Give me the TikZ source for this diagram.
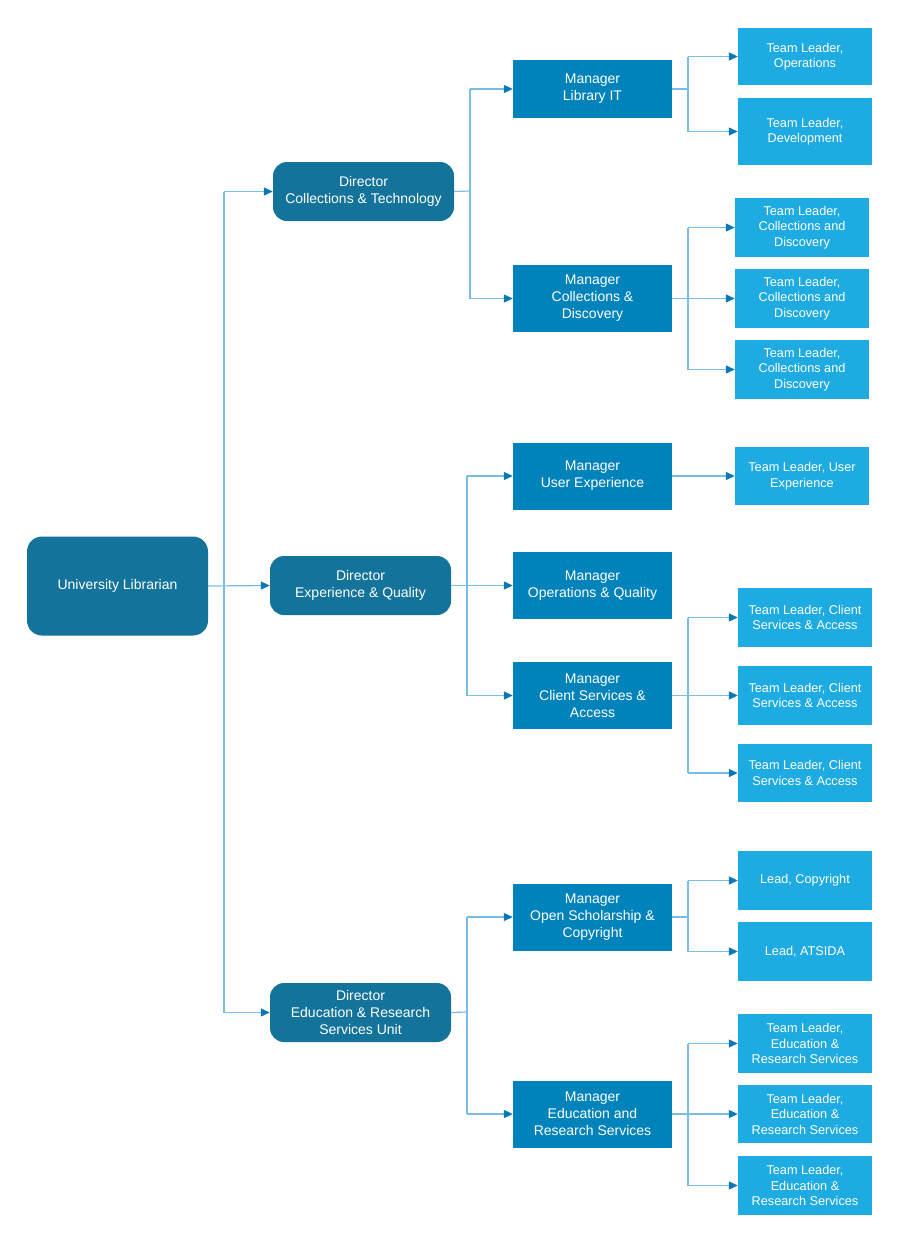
\documentclass[tikz,border=0pt]{standalone}
\usepackage{fontspec}
\setmainfont{Liberation Sans}
\usetikzlibrary{arrows.meta}
\definecolor{dirc}{RGB}{19,115,154}
\definecolor{mgrc}{RGB}{0,130,186}
\definecolor{tlc}{RGB}{30,171,226}
\definecolor{linec}{RGB}{120,190,228}
\definecolor{arrc}{RGB}{10,120,180}
\tikzset{
  top/.style={fill=dirc, rounded corners=15pt, minimum width=181pt, minimum height=99pt, text=white, align=center, font=\fontsize{14}{17}\selectfont, inner sep=0pt},
  dirbox/.style={fill=dirc, rounded corners=14pt, minimum width=181pt, minimum height=59pt, text=white, align=center, font=\fontsize{14}{17}\selectfont, inner sep=0pt},
  mgrbox/.style={fill=mgrc, minimum width=159pt, minimum height=67pt, text=white, align=center, font=\fontsize{14}{17}\selectfont, inner sep=0pt},
  tlbox/.style={fill=tlc, minimum width=134pt, minimum height=59pt, text=white, align=center, font=\fontsize{12.7}{15.5}\selectfont, inner sep=0pt},
  conn/.style={draw=linec, line width=1.2pt},
  arr/.style={conn, -{Triangle[length=9pt,width=8pt,color=arrc]}},
}
\begin{document}
\begin{tikzpicture}[x=1pt,y=-1pt]
\useasboundingbox (0,0) rectangle (900,1242);
% top
\node[top] (ul) at (117.5,586) {University Librarian};
% directors
\node[dirbox] (dct) at (363.5,191.5) {Director\\Collections \& Technology};
\node[dirbox] (deq) at (360.5,585.5) {Director\\Experience \& Quality};
\node[dirbox] (der) at (360.5,1012.5) {Director\\Education \& Research\\Services Unit};
% managers
\node[mgrbox, minimum height=58pt] (mlit) at (592.5,89) {Manager\\Library IT};
\node[mgrbox] (mcd) at (592.5,298.5) {Manager\\Collections \&\\Discovery};
\node[mgrbox] (mux) at (592.5,476) {Manager\\User Experience};
\node[mgrbox] (moq) at (592.5,585.5) {Manager\\Operations \& Quality};
\node[mgrbox] (mcs) at (592.5,695.5) {Manager\\Client Services \&\\Access};
\node[mgrbox] (mos) at (592.5,917) {Manager\\Open Scholarship \&\\Copyright};
\node[mgrbox] (mer) at (592.5,1114) {Manager\\Education and\\Research Services};
% team leaders
\node[tlbox, minimum height=57pt] (tops) at (805,56.5) {Team Leader,\\Operations};
\node[tlbox, minimum height=67pt] (tdev) at (805,131.5) {Team Leader,\\Development};
\node[tlbox] (tcd1) at (802,227.5) {Team Leader,\\Collections and\\Discovery};
\node[tlbox] (tcd2) at (802,298.5) {Team Leader,\\Collections and\\Discovery};
\node[tlbox] (tcd3) at (802,369.5) {Team Leader,\\Collections and\\Discovery};
\node[tlbox, minimum height=58pt] (tux) at (802,476) {Team Leader, User\\Experience};
\node[tlbox] (tcs1) at (805,617.5) {Team Leader, Client\\Services \& Access};
\node[tlbox] (tcs2) at (805,695.5) {Team Leader, Client\\Services \& Access};
\node[tlbox, minimum height=58pt] (tcs3) at (805,773) {Team Leader, Client\\Services \& Access};
\node[tlbox] (tlc1) at (805,880.5) {Lead, Copyright};
\node[tlbox] (tlc2) at (805,951.5) {Lead, ATSIDA};
\node[tlbox] (ter1) at (805,1043.5) {Team Leader,\\Education \&\\Research Services};
\node[tlbox, minimum height=58pt] (ter2) at (805,1114) {Team Leader,\\Education \&\\Research Services};
\node[tlbox] (ter3) at (805,1185.5) {Team Leader,\\Education \&\\Research Services};
% trunk
\coordinate (tr) at (224,586);
\draw[conn] (tr |- dct.west) -- (tr |- der.west);
\draw[arr] (ul.east) -- (deq.west);
\draw[arr] (tr |- dct.west) -- (dct.west);
\draw[arr] (tr |- der.west) -- (der.west);
% director -> managers
\coordinate (b1) at (470,191);
\draw[conn] (dct.east) -- (b1);
\draw[conn] (b1 |- mlit.west) -- (b1 |- mcd.west);
\draw[arr] (b1 |- mlit.west) -- (mlit.west);
\draw[arr] (b1 |- mcd.west) -- (mcd.west);
\coordinate (b2) at (467,586);
\draw[conn] (b2 |- mux.west) -- (b2 |- mcs.west);
\draw[arr] (deq.east) -- (moq.west);
\draw[arr] (b2 |- mux.west) -- (mux.west);
\draw[arr] (b2 |- mcs.west) -- (mcs.west);
\coordinate (b3) at (467,1012);
\draw[conn] (der.east) -- (b3);
\draw[conn] (b3 |- mos.west) -- (b3 |- mer.west);
\draw[arr] (b3 |- mos.west) -- (mos.west);
\draw[arr] (b3 |- mer.west) -- (mer.west);
% manager -> team leaders
\coordinate (c) at (688,0);
\draw[conn] (mlit.east) -- (c |- mlit.east);
\draw[conn] (c |- tops.west) -- (c |- tdev.west);
\draw[arr] (c |- tops.west) -- (tops.west);
\draw[arr] (c |- tdev.west) -- (tdev.west);
\draw[conn] (c |- tcd1.west) -- (c |- tcd3.west);
\draw[arr] (mcd.east) -- (tcd2.west);
\draw[arr] (c |- tcd1.west) -- (tcd1.west);
\draw[arr] (c |- tcd3.west) -- (tcd3.west);
\draw[arr] (mux.east) -- (tux.west);
\draw[conn] (c |- tcs1.west) -- (c |- tcs3.west);
\draw[arr] (mcs.east) -- (tcs2.west);
\draw[arr] (c |- tcs1.west) -- (tcs1.west);
\draw[arr] (c |- tcs3.west) -- (tcs3.west);
\draw[conn] (mos.east) -- (c |- mos.east);
\draw[conn] (c |- tlc1.west) -- (c |- tlc2.west);
\draw[arr] (c |- tlc1.west) -- (tlc1.west);
\draw[arr] (c |- tlc2.west) -- (tlc2.west);
\draw[conn] (c |- ter1.west) -- (c |- ter3.west);
\draw[arr] (mer.east) -- (ter2.west);
\draw[arr] (c |- ter1.west) -- (ter1.west);
\draw[arr] (c |- ter3.west) -- (ter3.west);
\end{tikzpicture}
\end{document}
